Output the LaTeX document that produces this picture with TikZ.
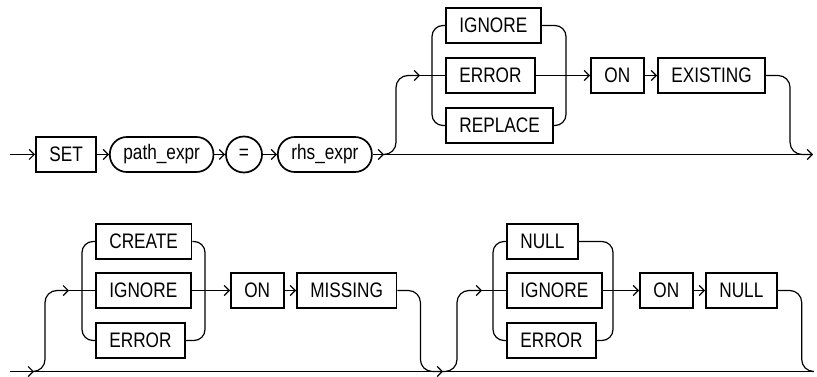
\documentclass[tikz,border=0pt]{standalone}
\usepackage{fontspec}
\newfontfamily\railfont[FakeStretch=0.82]{Liberation Sans}
\usetikzlibrary{arrows.meta,calc}
\tikzset{
  kwbox/.style={draw,line width=1.7pt,anchor=west,minimum height=35pt,inner xsep=13.5pt,inner ysep=0pt,font=\railfont\fontsize{21}{24}\selectfont},
  varbox/.style={kwbox,rounded corners=17pt},
  eqcirc/.style={draw,circle,line width=1.7pt,minimum size=36pt,inner sep=0pt,font=\railfont\fontsize{21}{24}\selectfont},
  conn/.style={line width=1.2pt},
  arr/.style={conn,-{Straight Barb[length=5pt,width=10pt,line width=1.2pt]}},
  rail/.style={conn,rounded corners=11pt}
}
\begin{document}
\begin{tikzpicture}[x=1pt,y=-1pt]
\useasboundingbox (0,0) rectangle (817,377);
% first row
\node[kwbox] (set) at (35,154.5) {SET};
\node[varbox] (pathexpr) at (109,154.5) {path\_expr};
\node[eqcirc] (eq) at (244,154.5) {=};
\node[varbox] (rhsexpr) at (277,154.5) {rhs\_expr};
\node[kwbox] (ignA) at (445,25.5) {IGNORE};
\node[kwbox] (errA) at (445,75.5) {ERROR};
\node[kwbox] (repA) at (445,125.5) {REPLACE};
\node[kwbox] (onA) at (590,75.5) {ON};
\node[kwbox] (existing) at (657,75.5) {EXISTING};
\coordinate (in1) at (10,154.5); \coordinate (j1) at (384,154.5); \coordinate (a1) at (420,75.5);
\coordinate (rA) at (566,75.5); \coordinate (out1) at (813,154.5);
\draw[arr] (in1) -- (set);
\draw[arr] (set) -- (pathexpr); \draw[arr] (pathexpr) -- (eq); \draw[arr] (eq) -- (rhsexpr);
\draw[arr] (rhsexpr) -- (j1);
\draw[conn] (j1) -- (out1);
\draw[arr,rounded corners=12pt] (j1) -- ++(12,0) |- (a1);
\draw[conn] (a1) -- (errA);
\draw[rail] (ignA.west) -- ++(-13,0) |- (repA.west);
\draw[rail] (ignA.east) -| (rA) |- (repA.east);
\draw[arr] (errA) -- (onA); \draw[arr] (onA) -- (existing);
\draw[arr,rounded corners=12pt] (existing.east) -- ++(24,0) |- (out1);
% second row
\node[kwbox] (createB) at (95,241.5) {CREATE};
\node[kwbox] (ignB) at (95,290.5) {IGNORE};
\node[kwbox] (errB) at (95,340.5) {ERROR};
\node[kwbox] (onB) at (230,290.5) {ON};
\node[kwbox] (missing) at (296,290.5) {MISSING};
\node[kwbox] (nullC) at (506,241.5) {NULL};
\node[kwbox] (ignC) at (506,290.5) {IGNORE};
\node[kwbox] (errC) at (506,340.5) {ERROR};
\node[kwbox] (onC) at (639,290.5) {ON};
\node[kwbox] (nullD) at (705,290.5) {NULL};
\coordinate (in2) at (10,371.5); \coordinate (a2) at (34,371.5); \coordinate (b2) at (69,290.5);
\coordinate (rB) at (205,290.5); \coordinate (c2) at (443,371.5); \coordinate (d2) at (482,290.5);
\coordinate (rC) at (613,290.5); \coordinate (out2) at (812,371.5);
\draw[arr] (in2) -- (a2);
\draw[conn] (a2) -- (out2);
\draw[arr,rounded corners=12pt] (a2) -- ++(11,0) |- (b2);
\draw[conn] (b2) -- (ignB);
\draw[rail] (createB.west) -- ++(-13,0) |- (errB.west);
\draw[rail] (createB.east) -| (rB) |- (errB.east);
\draw[arr] (ignB) -- (onB); \draw[arr] (onB) -- (missing);
\draw[arr,rounded corners=12pt] (missing.east) -- ++(23,0) |- (c2);
\draw[arr,rounded corners=12pt] (c2) -- ++(14,0) |- (d2);
\draw[conn] (d2) -- (ignC);
\draw[rail] (nullC.west) -- ++(-13,0) |- (errC.west);
\draw[rail] (nullC.east) -| (rC) |- (errC.east);
\draw[arr] (ignC) -- (onC); \draw[arr] (onC) -- (nullD);
\draw[conn,rounded corners=12pt] (nullD.east) -- ++(24,0) |- (out2);
\end{tikzpicture}
\end{document}
